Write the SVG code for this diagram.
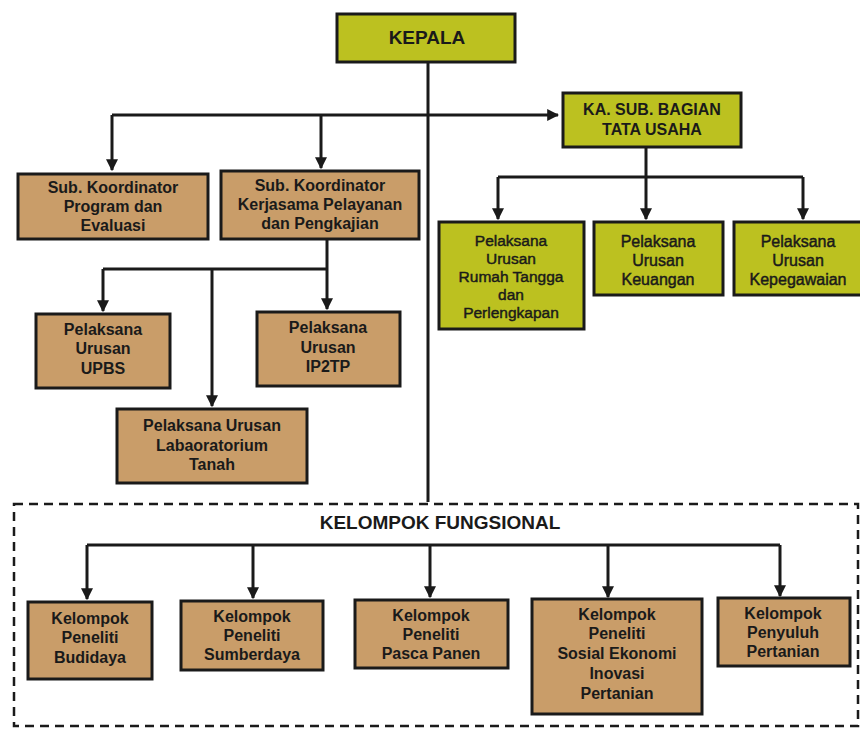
<svg xmlns="http://www.w3.org/2000/svg" width="860" height="729" viewBox="0 0 860 729">
<style>
.g{fill:#bcc120;stroke:#1a1a1a;stroke-width:3}
.t{fill:#c99d69;stroke:#1a1a1a;stroke-width:3}
.tx{font-family:"Liberation Sans",Arial,sans-serif;font-size:16px;font-weight:bold;fill:#1a1a1a;text-anchor:middle;dominant-baseline:central}
.tn{font-family:"Liberation Sans",Arial,sans-serif;font-size:16px;fill:#1a1a1a;text-anchor:middle;dominant-baseline:central;stroke:#1a1a1a;stroke-width:0.45}
.c{fill:none;stroke:#1a1a1a;stroke-width:3}
.d{fill:none;stroke:#1a1a1a;stroke-width:2.5;stroke-dasharray:9 6}
</style>
<defs>
<marker id="a" viewBox="0 0 10 10" refX="9" refY="5" markerWidth="4" markerHeight="4" orient="auto"><path d="M0,0 L10,5 L0,10 z" fill="#1a1a1a"/></marker>
</defs>
<rect width="860" height="729" fill="#ffffff"/>
<g id="connectors">
<path class="c" d="M428,62 V502"/>
<path class="c" d="M112,115 H558" marker-end="url(#a)"/>
<path class="c" d="M112,115 V170" marker-end="url(#a)"/>
<path class="c" d="M321,115 V168" marker-end="url(#a)"/>
<path class="c" d="M646,147 V219" marker-end="url(#a)"/>
<path class="c" d="M498,177 H803"/>
<path class="c" d="M498,177 V219" marker-end="url(#a)"/>
<path class="c" d="M803,177 V219" marker-end="url(#a)"/>
<path class="c" d="M327,239 V309" marker-end="url(#a)"/>
<path class="c" d="M103,269 H327"/>
<path class="c" d="M103,269 V311" marker-end="url(#a)"/>
<path class="c" d="M212,269 V406" marker-end="url(#a)"/>
<path class="c" d="M87,545 H780"/>
<path class="c" d="M87,545 V599" marker-end="url(#a)"/>
<path class="c" d="M253,545 V598" marker-end="url(#a)"/>
<path class="c" d="M430,545 V597" marker-end="url(#a)"/>
<path class="c" d="M608,545 V597" marker-end="url(#a)"/>
<path class="c" d="M780,545 V596" marker-end="url(#a)"/>
</g>
<g id="fungsional">
<path class="d" d="M14,504 H858 V726 H14 Z"/>
<text class="tx" x="440" y="522" style="font-size:19px">KELOMPOK FUNGSIONAL</text>
</g>
<g id="kepala">
<rect class="g" x="337" y="14" width="178" height="48"/>
<text class="tx" x="427" y="37" style="font-size:19px">KEPALA</text>
</g>
<g id="kasub">
<rect class="g" x="563" y="93" width="178" height="54"/>
<text class="tx" x="652" y="109" style="font-size:16px">KA. SUB. BAGIAN</text>
<text class="tx" x="652" y="129" style="font-size:16px">TATA USAHA</text>
</g>
<g id="subprogram">
<rect class="t" x="18" y="174" width="190" height="65"/>
<text class="tx" x="113" y="187">Sub. Koordinator</text>
<text class="tx" x="113" y="206">Program dan</text>
<text class="tx" x="113" y="225">Evaluasi</text>
</g>
<g id="subkerjasama">
<rect class="t" x="221" y="171" width="198" height="68"/>
<text class="tx" x="320" y="185">Sub. Koordinator</text>
<text class="tx" x="320" y="204">Kerjasama Pelayanan</text>
<text class="tx" x="320" y="223">dan Pengkajian</text>
</g>
<g id="upbs">
<rect class="t" x="36" y="314" width="134" height="74"/>
<text class="tx" x="103" y="329">Pelaksana</text>
<text class="tx" x="103" y="348">Urusan</text>
<text class="tx" x="103" y="368">UPBS</text>
</g>
<g id="ip2tp">
<rect class="t" x="257" y="312" width="143" height="74"/>
<text class="tx" x="328" y="327">Pelaksana</text>
<text class="tx" x="328" y="347">Urusan</text>
<text class="tx" x="328" y="366">IP2TP</text>
</g>
<g id="lab">
<rect class="t" x="117" y="409" width="190" height="74"/>
<text class="tx" x="212" y="425">Pelaksana Urusan</text>
<text class="tx" x="212" y="445">Labaoratorium</text>
<text class="tx" x="212" y="464">Tanah</text>
</g>
<g id="rumahtangga">
<rect class="g" x="439" y="222" width="145" height="107"/>
<text class="tn" x="511" y="240" style="font-size:15.5px">Pelaksana</text>
<text class="tn" x="511" y="258" style="font-size:15.5px">Urusan</text>
<text class="tn" x="511" y="276" style="font-size:15.5px">Rumah Tangga</text>
<text class="tn" x="511" y="294" style="font-size:15.5px">dan</text>
<text class="tn" x="511" y="312" style="font-size:15.5px">Perlengkapan</text>
</g>
<g id="keuangan">
<rect class="g" x="594" y="222" width="129" height="73"/>
<text class="tn" x="658" y="241">Pelaksana</text>
<text class="tn" x="658" y="260">Urusan</text>
<text class="tn" x="658" y="279">Keuangan</text>
</g>
<g id="kepegawaian">
<rect class="g" x="734" y="222" width="130" height="73"/>
<text class="tn" x="798" y="241">Pelaksana</text>
<text class="tn" x="798" y="260">Urusan</text>
<text class="tn" x="798" y="279">Kepegawaian</text>
</g>
<g id="budidaya">
<rect class="t" x="28" y="602" width="124" height="77"/>
<text class="tx" x="90" y="618">Kelompok</text>
<text class="tx" x="90" y="637">Peneliti</text>
<text class="tx" x="90" y="657">Budidaya</text>
</g>
<g id="sumberdaya">
<rect class="t" x="181" y="601" width="142" height="69"/>
<text class="tx" x="252" y="616">Kelompok</text>
<text class="tx" x="252" y="635">Peneliti</text>
<text class="tx" x="252" y="654">Sumberdaya</text>
</g>
<g id="pascapanen">
<rect class="t" x="355" y="600" width="153" height="68"/>
<text class="tx" x="431" y="615">Kelompok</text>
<text class="tx" x="431" y="634">Peneliti</text>
<text class="tx" x="431" y="653">Pasca Panen</text>
</g>
<g id="sosialekonomi">
<rect class="t" x="532" y="599" width="170" height="115"/>
<text class="tx" x="617" y="614">Kelompok</text>
<text class="tx" x="617" y="633">Peneliti</text>
<text class="tx" x="617" y="653">Sosial Ekonomi</text>
<text class="tx" x="617" y="673">Inovasi</text>
<text class="tx" x="617" y="693">Pertanian</text>
</g>
<g id="penyuluh">
<rect class="t" x="718" y="598" width="132" height="68"/>
<text class="tx" x="783" y="613">Kelompok</text>
<text class="tx" x="783" y="632">Penyuluh</text>
<text class="tx" x="783" y="651">Pertanian</text>
</g>
</svg>
